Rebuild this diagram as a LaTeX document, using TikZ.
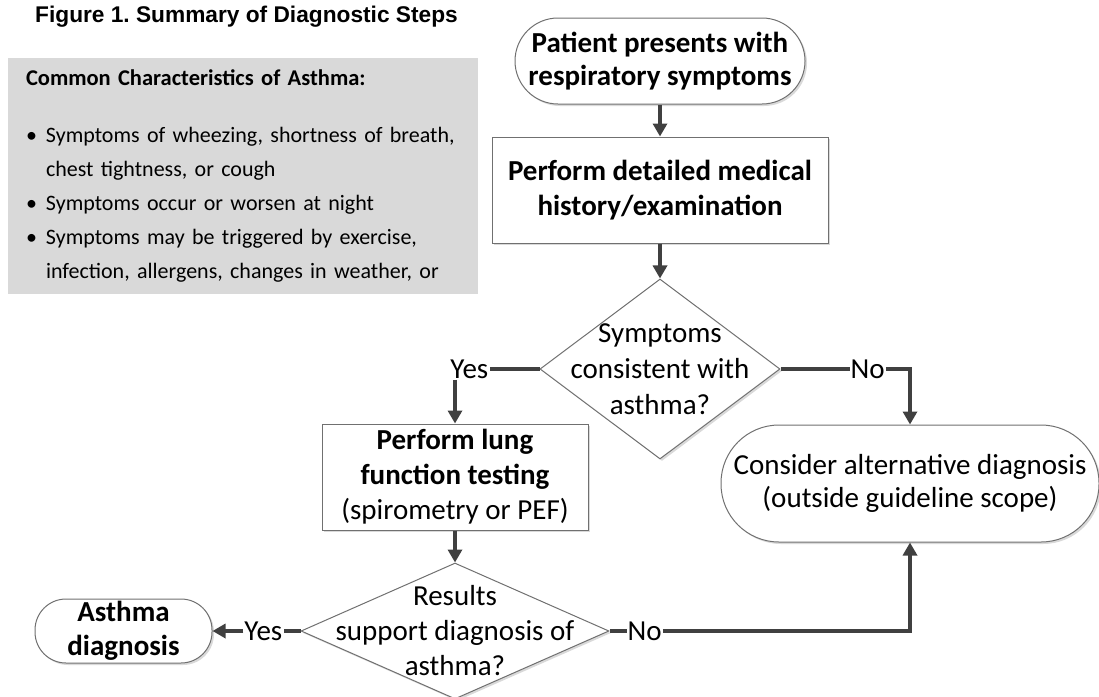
\documentclass[tikz,border=0pt]{standalone}
\usepackage{fontspec}
\setmainfont{Carlito}
\newfontfamily\headfont{Liberation Sans}
\usetikzlibrary{arrows.meta,positioning,shapes.geometric,shadows}
\definecolor{linegray}{HTML}{404040}
\definecolor{boxgray}{HTML}{D9D9D9}
\definecolor{edgegray}{HTML}{707070}
\tikzset{
    %Define standard arrow tip
    >={Triangle[width=14pt,length=13pt]},
    %Define light shadow under shapes
    softshadow/.style={
           drop shadow={shadow xshift=2pt,shadow yshift=-2pt,
                        fill=black,opacity=0.15}},
    %Define style for boxes
    box/.style={
           rectangle,
           draw=edgegray, line width=1pt,
           fill=white,
           softshadow,
           align=center,
           inner sep=0pt,
           font=\fontsize{29}{35}\selectfont},
    %Define style for start and end shapes
    terminal/.style={
           rectangle,
           rounded corners=#1,
           draw=edgegray, line width=1pt,
           fill=white,
           softshadow,
           align=center,
           inner sep=0pt,
           font=\fontsize{29}{33.5}\selectfont},
    %Define style for decisions
    decision/.style={
           diamond,
           draw=edgegray, line width=1pt,
           fill=white,
           softshadow,
           inner sep=0pt},
    %Define style for text inside decisions
    question/.style={
           align=center,
           inner sep=0pt,
           font=\fontsize{29}{36}\selectfont},
    %Define style for yes/no labels
    answer/.style={
           inner sep=1pt,
           font=\fontsize{29}{32}\selectfont},
    % Define arrow style
    flow/.style={
           ->,
           draw=linegray,
           line width=3.5pt},
    joint/.style={
           draw=linegray,
           line width=3.5pt}
}
\begin{document}
\frenchspacing
\begin{tikzpicture}[x=1pt, y=-1pt]
 \useasboundingbox (0,0) rectangle (1099,696);
 %heading and grey panel
    \node[anchor=west, inner sep=0pt,
          font=\headfont\bfseries\fontsize{22.7}{26}\selectfont] (title) at (35,17)
          {Figure 1. Summary of Diagnostic Steps};
    \node[fill=boxgray, minimum width=470pt, minimum height=236pt,
          text width=434pt, inner xsep=18pt, align=left,
          font=\fontsize{22}{34}\selectfont] (chars) at (243,176)
          {{\fontsize{22.5}{24}\selectfont\bfseries Common Characteristics of Asthma:}\\[23pt]
           \makebox[20pt][l]{\textbullet}Symptoms of wheezing, shortness of breath,\\
           \hspace*{20pt}chest tightness, or cough\\
           \makebox[20pt][l]{\textbullet}Symptoms occur or worsen at night\\
           \makebox[20pt][l]{\textbullet}Symptoms may be triggered by exercise,\\
           \hspace*{20pt}infection, allergens, changes in weather, or};
 %nodes
    \node[terminal=43pt, font=\fontsize{29}{33.5}\selectfont\bfseries,
          minimum width=290pt, minimum height=86pt] (start) at (660,61)
          {Patient presents with\\respiratory symptoms};
    \node[box, font=\fontsize{29}{35}\selectfont\bfseries,
          minimum width=336pt, minimum height=106pt, below=32pt of start] (hist)
          {Perform detailed medical\\history/examination};
    \node[decision, minimum width=240pt, minimum height=180pt,
          below=35pt of hist] (sym) {};
    \node[question] (symtext) at (sym) {Symptoms\\consistent with\\asthma?};
    \node[box, minimum width=266pt, minimum height=106pt] (lung) at (455,477)
          {\textbf{Perform lung}\\\textbf{function testing}\\(spirometry or PEF)};
    \node[terminal=58pt, minimum width=378pt, minimum height=117pt] (alt) at (910,483.5)
          {Consider alternative diagnosis\\(outside guideline scope)};
    \node[decision, minimum width=308pt, minimum height=136pt,
          below=32pt of lung] (res) {};
    \node[question, font=\fontsize{29}{35}\selectfont] (restext) at (res)
          {Results\\support diagnosis of\\asthma?};
    \node[terminal=31pt, font=\fontsize{29}{34}\selectfont\bfseries,
          minimum width=177pt, minimum height=64pt, left=88pt of res] (asth)
          {Asthma\\diagnosis};
 %labels
    \node[answer, left=50pt of sym] (yes1) {Yes};
    \node[answer, right=69pt of sym] (no1) {No};
    \node[answer, left=17pt of res] (yes2) {Yes};
    \node[answer, right=17pt of res] (no2) {No};
 %edges
    \draw[flow] (start) -- (hist);
    \draw[flow] (hist) -- (sym);
    \draw[joint] (sym.west) -- (yes1.east);
    \draw[flow] (yes1.south -| lung.north) -- (lung.north);
    \draw[joint] (sym.east) -- (no1.west);
    \draw[flow] (no1.east) -| (alt.north);
    \draw[flow] (lung) -- (res);
    \draw[joint] (res.west) -- (yes2.east);
    \draw[flow] (yes2.west) -- (asth.east);
    \draw[joint] (res.east) -- (no2.west);
    \draw[flow] (no2.east) -| (alt.south);
\end{tikzpicture}
\end{document}
